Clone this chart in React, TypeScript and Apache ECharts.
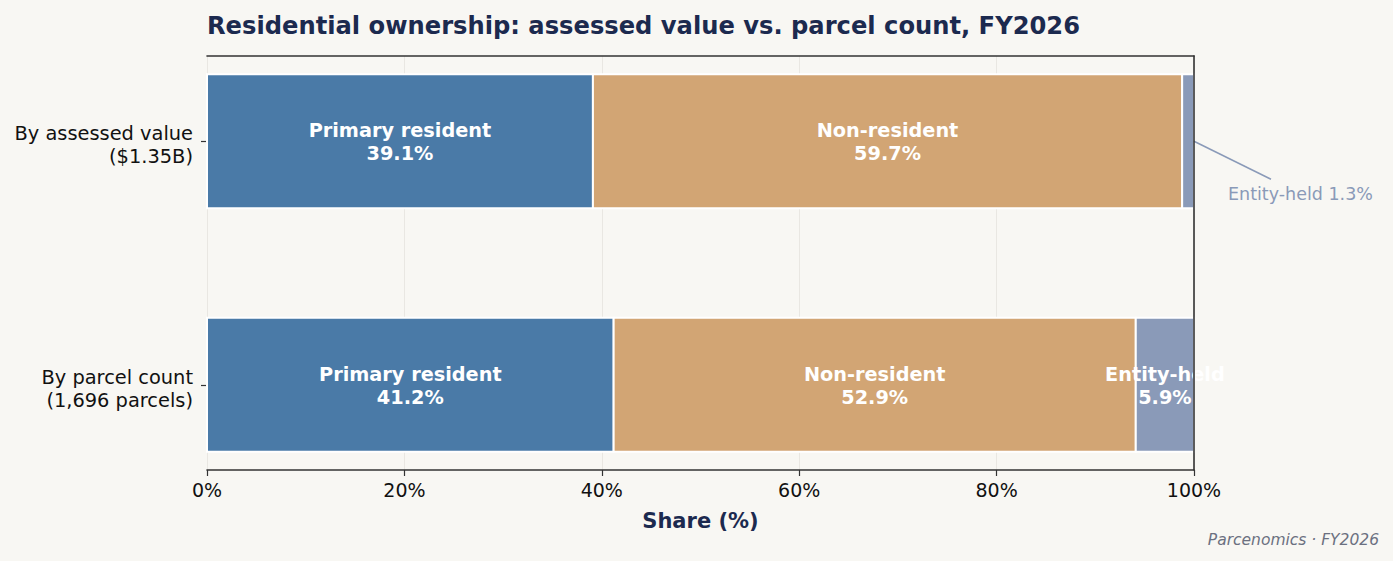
import React, { useEffect, useRef } from "react";
import * as echarts from "echarts";

// Row labels (top to bottom) and ownership groups
const rowLabels = ["By assessed value\n($1.35B)", "By parcel count\n(1,696 parcels)"];
const groupNames = ["Primary resident", "Non-resident", "Entity-held"];
const groupColors = ["#4a7aa7", "#d2a574", "#8a9ab8"];

// Share of each group, in percent
const sharesByValue = [39.1, 59.7, 1.3];
const sharesByParcels = [41.2, 52.9, 5.9];

const FONT = "DejaVu Sans";
const BAR_HALF = 0.275;
// Row labels sit a touch below their tick, as multi-line text does in the original layout
const LABEL_NUDGE = 0.016;

type Seg = [number, number, number, number, number];

function buildSegments(): Seg[] {
  const out: Seg[] = [];
  [sharesByValue, sharesByParcels].forEach((shares, row) => {
    let acc = 0;
    shares.forEach((v, g) => {
      out.push([acc, acc + v, row, g, v]);
      acc += v;
    });
  });
  return out;
}

export default function App() {
  const ref = useRef<HTMLDivElement>(null);

  useEffect(() => {
    if (!ref.current) return;
    const chart = echarts.init(ref.current, null, { renderer: "svg" });
    const segments = buildSegments();

    const option: any = {
      animation: false,
      backgroundColor: "#f8f7f3",
      textStyle: { fontFamily: FONT },
      title: {
        text: "Residential ownership: assessed value vs. parcel count, FY2026",
        left: 207,
        top: 14,
        padding: 0,
        textStyle: { fontFamily: FONT, fontSize: 24.2, fontWeight: "bold", color: "#1c2a4f" },
      },
      grid: { left: 207, right: 199, top: 56, bottom: 91, containLabel: false },
      xAxis: [
        {
          type: "value",
          min: 0,
          max: 100,
          interval: 20,
          position: "bottom",
          axisLine: { show: true, onZero: false, lineStyle: { color: "#333333", width: 1.6 } },
          axisTick: { show: true, length: 6, lineStyle: { color: "#333333", width: 1.2 } },
          axisLabel: {
            formatter: "{value}%",
            fontSize: 19,
            color: "#111111",
            fontFamily: FONT,
            margin: 10,
          },
          splitLine: { show: true, lineStyle: { color: "#e9e7e2", width: 1 } },
          name: "Share (%)",
          nameLocation: "middle",
          nameGap: 40,
          nameTextStyle: { fontFamily: FONT, fontSize: 21, fontWeight: "bold", color: "#1c2a4f" },
        },
        {
          type: "value",
          min: 0,
          max: 100,
          position: "top",
          z: 5,
          axisLine: { show: true, onZero: false, lineStyle: { color: "#333333", width: 1.6 } },
          axisTick: { show: false },
          axisLabel: { show: false },
          splitLine: { show: false },
        },
      ],
      yAxis: [
        {
          type: "value",
          min: -0.35,
          max: 1.35,
          inverse: true,
          axisLine: { show: false, onZero: false },
          splitLine: { show: false },
          axisTick: {
            show: true,
            customValues: [0, 1],
            length: 6,
            lineStyle: { color: "#333333", width: 1.2 },
          },
          axisLabel: {
            customValues: [0 + LABEL_NUDGE, 1 + LABEL_NUDGE],
            formatter: (v: number) => rowLabels[Math.round(v)] ?? "",
            fontSize: 19.4,
            lineHeight: 23,
            color: "#111111",
            fontFamily: FONT,
            margin: 14,
            align: "right",
          },
        },
        {
          type: "value",
          min: -0.35,
          max: 1.35,
          inverse: true,
          position: "right",
          z: 5,
          axisLine: { show: true, onZero: false, lineStyle: { color: "#333333", width: 1.6 } },
          axisTick: { show: false },
          axisLabel: { show: false },
          splitLine: { show: false },
        },
      ],
      series: [
        {
          type: "custom",
          xAxisIndex: 0,
          yAxisIndex: 0,
          data: segments,
          renderItem: (_params: any, api: any) => {
            const start = api.value(0);
            const end = Math.min(api.value(1), 100);
            const row = api.value(2);
            const g = api.value(3);
            const share = api.value(4);
            const p0 = api.coord([start, row - BAR_HALF]);
            const p1 = api.coord([end, row + BAR_HALF]);
            const x = p0[0];
            const y = Math.min(p0[1], p1[1]);
            const w = p1[0] - p0[0];
            const h = Math.abs(p1[1] - p0[1]);
            const children: any[] = [
              {
                type: "rect",
                shape: { x, y, width: w, height: h },
                style: { fill: groupColors[g], stroke: "#ffffff", lineWidth: 2 },
              },
            ];
            if (share >= 3) {
              children.push({
                type: "text",
                z2: 10,
                style: {
                  text: groupNames[g] + "\n" + share.toFixed(1) + "%",
                  x: x + w / 2,
                  y: y + h / 2 + 1,
                  align: "center",
                  verticalAlign: "middle",
                  fill: "#ffffff",
                  font: `bold 19.3px "${FONT}"`,
                  lineHeight: 23,
                },
              });
            } else {
              const anchor = api.coord([end, row]);
              children.push({
                type: "line",
                shape: { x1: anchor[0], y1: anchor[1], x2: anchor[0] + 77, y2: anchor[1] + 38 },
                style: { stroke: groupColors[g], lineWidth: 1.5 },
              });
              children.push({
                type: "text",
                style: {
                  text: groupNames[g] + " " + share.toFixed(1) + "%",
                  x: anchor[0] + 34,
                  y: anchor[1] + 53,
                  align: "left",
                  verticalAlign: "middle",
                  fill: groupColors[g],
                  font: `17.5px "${FONT}"`,
                },
              });
            }
            return { type: "group", children };
          },
        },
      ],
      graphic: [
        {
          type: "text",
          right: 14,
          top: 532,
          style: {
            text: "Parcenomics · FY2026",
            fill: "#6b7080",
            font: `italic 15.5px "${FONT}"`,
          },
        },
      ],
    };

    chart.setOption(option);
    return () => chart.dispose();
  }, []);

  return (
    <div
      ref={ref}
      style={{ position: "fixed", left: 0, top: 0, width: 1393, height: 561 }}
    />
  );
}
